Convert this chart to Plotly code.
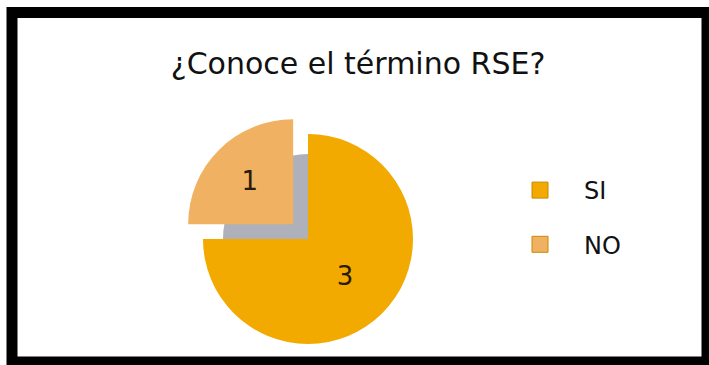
import plotly.graph_objects as go

title_text = "¿Conoce el término RSE?"
labels = ["SI", "NO"]
values = [3, 1]
colors = ["#F2A900", "#F0B262"]
shadow_color = "#AEB1B9"

W, H = 709, 365
font_family = "DejaVu Sans"

# pie centre / size in pixels (layout only)
cx, cy = 308, 239
half = 126          # half of domain (px)
shadow_half = 85
pull_no = 0.2

def dom(c, h, total):
    return [max(0, (c - h) / total), min(1, (c + h) / total)]

fig = go.Figure()

# soft shadow under the pulled slice
fig.add_trace(go.Pie(
    labels=labels, values=values, sort=False, direction="clockwise", rotation=0,
    marker=dict(colors=["rgba(0,0,0,0)", shadow_color], line=dict(width=0)),
    textinfo="none", hoverinfo="skip", showlegend=False,
    domain=dict(x=dom(cx, shadow_half, W), y=[1 - (cy + shadow_half) / H, 1 - (cy - shadow_half) / H]),
))

fig.add_trace(go.Pie(
    labels=labels, values=values, sort=False, direction="clockwise", rotation=0,
    pull=[0, pull_no],
    marker=dict(colors=colors, line=dict(width=0)),
    textinfo="value", textposition="inside",
    textfont=dict(family=font_family, size=26, color="#2A1A08"),
    insidetextorientation="horizontal",
    hoverinfo="label+value", showlegend=False,
    domain=dict(x=dom(cx, half, W), y=[1 - (cy + half) / H, 1 - (cy - half) / H]),
))

# legend entries
for lab, col in zip(labels, colors):
    fig.add_trace(go.Scatter(
        x=[None], y=[None], mode="markers", name=lab, legendgroup=lab,
        marker=dict(symbol="square", size=16, color=col,
                    line=dict(width=1, color="#C98A00")),
        showlegend=True, hoverinfo="skip",
    ))

fig.update_xaxes(visible=False)
fig.update_yaxes(visible=False)

fig.update_layout(
    width=W, height=H,
    margin=dict(l=0, r=0, t=0, b=0),
    paper_bgcolor="white", plot_bgcolor="rgba(0,0,0,0)",
    title=dict(text=title_text, x=0.505, xanchor="center", y=1 - 63 / H, yanchor="middle",
               font=dict(family=font_family, size=30, color="#111111")),
    legend=dict(x=0.6996, xanchor="left", y=1 - 168 / H, yanchor="top",
                font=dict(family=font_family, size=24, color="#111111"),
                bgcolor="rgba(0,0,0,0)", borderwidth=0,
                itemwidth=78, tracegroupgap=20, itemsizing="trace"),
    shapes=[dict(type="rect", xref="paper", yref="paper",
                 x0=12 / W, x1=707 / W, y0=1 - 362 / H, y1=1 - 12.5 / H,
                 line=dict(color="black", width=11), fillcolor="rgba(0,0,0,0)",
                 layer="above")],
)

fig.write_html("out.html", config={"displayModeBar": False},
               post_script="document.body.style.margin='0';document.body.style.overflow='hidden';")
